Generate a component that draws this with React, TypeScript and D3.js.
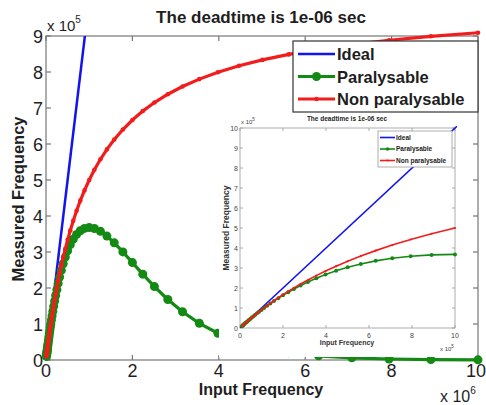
import React from 'react';
import * as d3 from 'd3';

// Input frequency (x 10^6 counts/s), log-spaced samples as marked in the plot
const inputFreq = [
  0.0100, 0.0112, 0.0126, 0.0141, 0.0158, 0.0178, 0.0200, 0.0224, 0.0251, 0.0282,
  0.0316, 0.0355, 0.0398, 0.0447, 0.0501, 0.0562, 0.0631, 0.0708, 0.0794, 0.0891,
  0.100, 0.112, 0.126, 0.141, 0.158, 0.178, 0.200, 0.224, 0.251, 0.282,
  0.316, 0.355, 0.398, 0.447, 0.501, 0.562, 0.631, 0.708, 0.794, 0.891,
  1.00, 1.12, 1.26, 1.41, 1.58, 1.78, 2.00, 2.24, 2.51, 2.82,
  3.16, 3.55, 3.98, 4.47, 5.01, 5.62, 6.31, 7.08, 7.94, 8.91, 10.0,
];
// Measured frequency (x 10^5)
const paralysable = [
  0.0990, 0.1108, 0.1244, 0.1390, 0.1555, 0.1749, 0.1960, 0.2190, 0.2448, 0.2742,
  0.3062, 0.3426, 0.3825, 0.4275, 0.4765, 0.5313, 0.5924, 0.6596, 0.7334, 0.8150,
  0.9048, 1.0013, 1.1108, 1.2246, 1.3491, 1.4898, 1.6375, 1.7905, 1.9528, 2.1271,
  2.3038, 2.4892, 2.6732, 2.8588, 3.0357, 3.2038, 3.3573, 3.4878, 3.5891, 3.6553,
  3.6788, 3.6543, 3.5740, 3.4424, 3.2544, 3.0018, 2.7067, 2.3847, 2.0398, 1.6808,
  1.3410, 1.0197, 0.7437, 0.5117, 0.3341, 0.2037, 0.1147, 0.0596, 0.0283, 0.0120, 0.0045,
];
const nonParalysable = [
  0.0990, 0.1108, 0.1244, 0.1390, 0.1555, 0.1749, 0.1961, 0.2191, 0.2449, 0.2743,
  0.3063, 0.3428, 0.3828, 0.4279, 0.4771, 0.5321, 0.5935, 0.6612, 0.7356, 0.8181,
  0.9091, 1.0072, 1.1190, 1.2358, 1.3644, 1.5110, 1.6667, 1.8301, 2.0064, 2.1997,
  2.4012, 2.6199, 2.8469, 3.0892, 3.3378, 3.5980, 3.8688, 4.1452, 4.4259, 4.7118,
  5.0000, 5.2830, 5.5752, 5.8506, 6.1240, 6.4029, 6.6667, 6.9136, 7.1510, 7.3822,
  7.5962, 7.8022, 7.9920, 8.1718, 8.3361, 8.4894, 8.6320, 8.7624, 8.8814, 8.9912, 9.0909,
];
const idealInput = [0, 10];
const idealOutput = [0, 100];

const xTicks = [0, 2, 4, 6, 8, 10];
const yTicks = [0, 1, 2, 3, 4, 5, 6, 7, 8, 9];
const insetXTicks = [0, 2, 4, 6, 8, 10];
const insetYTicks = [0, 1, 2, 3, 4, 5, 6, 7, 8, 9, 10];
const legendLabels = ['Ideal', 'Paralysable', 'Non paralysable'];
const titleText = 'The deadtime is 1e-06 sec';
const xLabel = 'Input Frequency';
const yLabel = 'Measured Frequency';

const FONT = "'Liberation Sans', Arial, Helvetica, sans-serif";
const BLUE = '#1212f2';
const GREEN = '#138a13';
const RED = '#f21c1c';
const AXIS = '#777';
const TXT = '#1e1e1e';

type P = [number, number];

export default function App() {
  // main axes
  const L = 46, R = 478, T = 36, B = 360;
  const x = d3.scaleLinear().domain([0, 10]).range([L, R]);
  const y = d3.scaleLinear().domain([0, 9]).range([B, T]);
  const line = d3.line<P>().x(d => x(d[0])).y(d => y(d[1]));

  const idealPts: P[] = idealInput.map((v, i) => [v, idealOutput[i]]);
  const parPts: P[] = inputFreq.map((v, i) => [v, paralysable[i]]);
  const nonPts: P[] = inputFreq.map((v, i) => [v, nonParalysable[i]]);

  // inset axes (x in units of 1e5)
  const iL = 240, iR = 455, iT = 128, iB = 328;
  const ix = d3.scaleLinear().domain([0, 10]).range([iL, iR]);
  const iy = d3.scaleLinear().domain([0, 10]).range([iB, iT]);
  const iline = d3.line<P>().x(d => ix(d[0] * 10)).y(d => iy(d[1]));
  const iPar = parPts.filter(d => d[0] <= 1.0001);
  const iNon = nonPts.filter(d => d[0] <= 1.0001);

  const legendColors = [BLUE, GREEN, RED];

  return (
    <svg width={486} height={405} style={{ position: 'absolute', left: 0, top: 0, background: '#fff' }}
      fontFamily={FONT}>
      <defs>
        <clipPath id="mainClip"><rect x={L} y={T} width={R - L} height={B - T} /></clipPath>
        <clipPath id="insetClip"><rect x={iL} y={iT - 2} width={iR - iL + 2} height={iB - iT + 2} /></clipPath>
      </defs>
      <rect x={0} y={0} width={486} height={405} fill="#fff" />

      {/* title */}
      <text x={261} y={23} textAnchor="middle" fontSize={17} fontWeight="bold" fill={TXT}>{titleText}</text>

      {/* main axes box */}
      <rect x={L} y={T} width={R - L} height={B - T} fill="none" stroke={AXIS} strokeWidth={1.2} />
      {xTicks.map(t => (
        <g key={'xt' + t}>
          <line x1={x(t)} x2={x(t)} y1={B} y2={B - 5} stroke={AXIS} strokeWidth={1.2} />
          <line x1={x(t)} x2={x(t)} y1={T} y2={T + 5} stroke={AXIS} strokeWidth={1.2} />
          <text x={Math.min(x(t), 476)} y={377} textAnchor="middle" fontSize={18} fill={TXT}>{t}</text>
        </g>
      ))}
      {yTicks.map(t => (
        <g key={'yt' + t}>
          <line x1={L} x2={L + 5} y1={y(t)} y2={y(t)} stroke={AXIS} strokeWidth={1.2} />
          <line x1={R} x2={R - 5} y1={y(t)} y2={y(t)} stroke={AXIS} strokeWidth={1.2} />
          <text x={43} y={y(t) + 6.5} textAnchor="end" fontSize={18} fill={TXT}>{t}</text>
        </g>
      ))}
      <text x={47} y={31} fontSize={15} fill={TXT}>x 10<tspan fontSize={10} dy={-8}>5</tspan></text>
      <text x={440} y={402} fontSize={16} fill={TXT}>x 10<tspan fontSize={10} dy={-8}>6</tspan></text>
      <text x={261} y={395} textAnchor="middle" fontSize={16} fontWeight="bold" fill={TXT}>{xLabel}</text>
      <text transform={`translate(24,199) rotate(-90)`} textAnchor="middle" fontSize={16.5} fontWeight="bold" fill={TXT}>{yLabel}</text>

      {/* main series */}
      <path d={line(idealPts) || ''} fill="none" stroke={BLUE} strokeWidth={2.5} clipPath="url(#mainClip)" />
      <path d={line(parPts) || ''} fill="none" stroke={GREEN} strokeWidth={3.2} />
      {parPts.map((d, i) => <circle key={'pm' + i} cx={x(d[0])} cy={y(d[1])} r={4.5} fill={GREEN} />)}
      <path d={line(nonPts) || ''} fill="none" stroke={RED} strokeWidth={3.2} />
      {nonPts.map((d, i) => <circle key={'nm' + i} cx={x(d[0])} cy={y(d[1])} r={2.3} fill={RED} />)}

      {/* inset (pasted smaller figure) */}
      <rect x={219} y={112} width={251} height={245} fill="#fff" />
      <text x={347} y={121} textAnchor="middle" fontSize={6.5} fontWeight="bold" fill={TXT}>{titleText}</text>
      <rect x={iL} y={iT} width={iR - iL} height={iB - iT} fill="none" stroke="#999" strokeWidth={0.8} />
      {insetXTicks.map(t => (
        <g key={'ixt' + t}>
          <line x1={ix(t)} x2={ix(t)} y1={iB} y2={iB - 3} stroke="#999" strokeWidth={0.8} />
          <line x1={ix(t)} x2={ix(t)} y1={iT} y2={iT + 3} stroke="#999" strokeWidth={0.8} />
          <text x={ix(t)} y={338} textAnchor="middle" fontSize={7} fill="#444">{t}</text>
        </g>
      ))}
      {insetYTicks.map(t => (
        <g key={'iyt' + t}>
          <line x1={iL} x2={iL + 3} y1={iy(t)} y2={iy(t)} stroke="#999" strokeWidth={0.8} />
          <line x1={iR} x2={iR - 3} y1={iy(t)} y2={iy(t)} stroke="#999" strokeWidth={0.8} />
          <text x={238} y={iy(t) + 2.5} textAnchor="end" fontSize={7} fill="#444">{t}</text>
        </g>
      ))}
      <text x={241} y={124} fontSize={6} fill="#444">x 10<tspan fontSize={4.5} dy={-3}>5</tspan></text>
      <text x={440} y={351} fontSize={6} fill="#444">x 10<tspan fontSize={4.5} dy={-3}>5</tspan></text>
      <text x={347} y={345} textAnchor="middle" fontSize={7} fontWeight="bold" fill="#333">{xLabel}</text>
      <text transform={`translate(229,228) rotate(-90)`} textAnchor="middle" fontSize={8.5} fontWeight="bold" fill="#333">{yLabel}</text>

      <g clipPath="url(#insetClip)">
        <path d={iline(idealPts) || ''} fill="none" stroke={BLUE} strokeWidth={1.5} />
      </g>
      <path d={iline(iPar) || ''} fill="none" stroke={GREEN} strokeWidth={1.6} />
      {iPar.map((d, i) => <circle key={'ipm' + i} cx={ix(d[0] * 10)} cy={iy(d[1])} r={2} fill={GREEN} />)}
      <path d={iline(iNon) || ''} fill="none" stroke={RED} strokeWidth={1.6} />
      {iNon.map((d, i) => <circle key={'inm' + i} cx={ix(d[0] * 10)} cy={iy(d[1])} r={1.1} fill={RED} />)}

      {/* inset legend */}
      <rect x={378} y={131} width={74} height={36} fill="#fff" stroke="#999" strokeWidth={0.8} />
      {legendLabels.map((lab, i) => {
        const ly = 137.5 + i * 11.5;
        return (
          <g key={'il' + i}>
            <line x1={380} x2={395} y1={ly} y2={ly} stroke={legendColors[i]} strokeWidth={1.6} />
            {i === 1 && <circle cx={387.5} cy={ly} r={1.8} fill={GREEN} />}
            {i === 2 && <circle cx={387.5} cy={ly} r={1.1} fill={RED} />}
            <text x={396} y={ly + 2.3} fontSize={6.5} fontWeight="bold" fill="#222">{lab}</text>
          </g>
        );
      })}

      {/* main legend */}
      <rect x={293} y={41} width={185} height={71} fill="#fff" stroke="#333" strokeWidth={1.2} />
      {legendLabels.map((lab, i) => {
        const ly = 54 + i * 22.5;
        return (
          <g key={'ml' + i}>
            <line x1={298} x2={335} y1={ly} y2={ly} stroke={legendColors[i]} strokeWidth={i === 0 ? 2.5 : 3.2} />
            {i === 1 && <circle cx={316.5} cy={ly} r={4.5} fill={GREEN} />}
            {i === 2 && <circle cx={316.5} cy={ly} r={2.3} fill={RED} />}
            <text x={337} y={ly + 6} fontSize={16.5} fontWeight="bold" fill={TXT}>{lab}</text>
          </g>
        );
      })}
    </svg>
  );
}
